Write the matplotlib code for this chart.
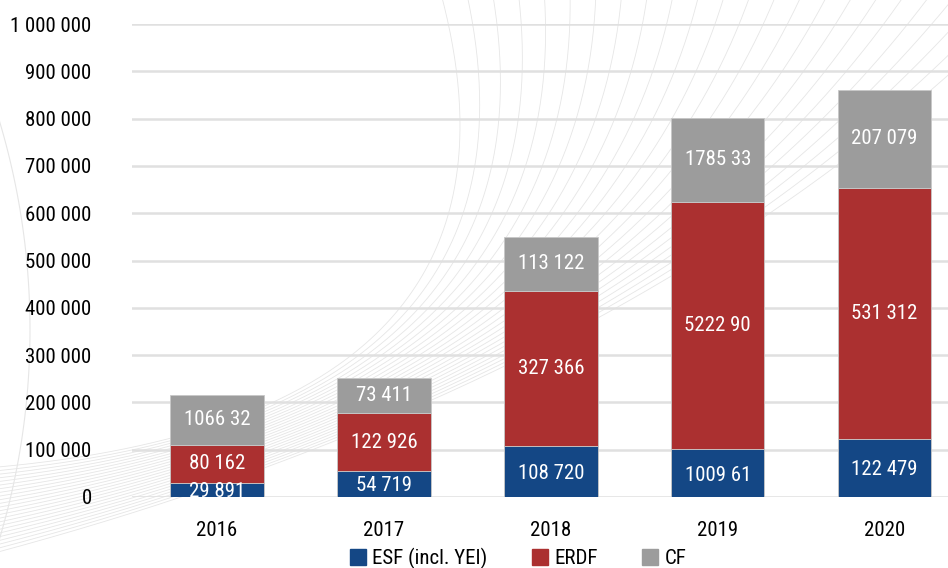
import numpy as np
import matplotlib.pyplot as plt
from matplotlib import font_manager
from matplotlib.lines import Line2D

years = ["2016", "2017", "2018", "2019", "2020"]
esf = [29891, 54719, 108720, 100961, 122479]
erdf = [80162, 122926, 327366, 522290, 531312]
cf = [106632, 73411, 113122, 178533, 207079]
esf_labels = ["29 891", "54 719", "108 720", "1009 61", "122 479"]
erdf_labels = ["80 162", "122 926", "327 366", "5222 90", "531 312"]
cf_labels = ["1066 32", "73 411", "113 122", "1785 33", "207 079"]
yticks = [0, 100000, 200000, 300000, 400000, 500000, 600000, 700000, 800000, 900000, 1000000]
ytick_labels = ["0", "100 000", "200 000", "300 000", "400 000", "500 000",
                "600 000", "700 000", "800 000", "900 000", "1 000 000"]

# narrow font if there is one, else Liberation Sans a bit smaller
installed = {f.name for f in font_manager.fontManager.ttflist}
fs = 15
family = "Liberation Sans"
for name in ["Roboto Condensed", "Liberation Sans Narrow", "Open Sans Condensed", "DejaVu Sans Condensed"]:
    if name in installed:
        family = name
        break
else:
    fs = 13.5
plt.rcParams['font.family'] = [family, 'DejaVu Sans']

W, H = 948, 568
fig = plt.figure(figsize=(W / 100, H / 100), dpi=100)

# decorative background curves (figure pixel coords)
bg = fig.add_axes([0, 0, 1, 1], zorder=0)
bg.set_xlim(0, W)
bg.set_ylim(H, 0)
bg.axis("off")
t = np.linspace(0, 1, 200)
for k in range(24):
    p0 = np.array([-40, 470 + 4 * k])
    p1 = np.array([560 + 4 * k, 430 - 2 * k])
    p2 = np.array([440 + 26 * k, -10])
    pts = ((1 - t) ** 2)[:, None] * p0 + (2 * (1 - t) * t)[:, None] * p1 + (t ** 2)[:, None] * p2
    bg.plot(pts[:, 0], pts[:, 1], color="#e6e6e6", lw=0.6)
theta = np.linspace(-0.5, 0.6, 100)
bg.plot(-700 + 730 * np.cos(theta), 330 + 730 * np.sin(theta), color="#e6e6e6", lw=0.8)

ax = fig.add_axes([132 / W, (H - 497) / H, (W - 132) / W, (497 - 24) / H], zorder=1)
ax.patch.set_alpha(0)
x = np.arange(len(years))
width = 0.56
blue, red, grey = "#144785", "#ab3030", "#9c9c9c"

bottoms_erdf = np.array(esf)
bottoms_cf = bottoms_erdf + np.array(erdf)
ax.bar(x, esf, width, color=blue, edgecolor="#c8c8c8", lw=0.6, label="ESF (incl. YEI)", zorder=3)
ax.bar(x, erdf, width, bottom=bottoms_erdf, color=red, edgecolor="#c8c8c8", lw=0.6, label="ERDF", zorder=3)
ax.bar(x, cf, width, bottom=bottoms_cf, color=grey, edgecolor="#c8c8c8", lw=0.6, label="CF", zorder=3)

for i in range(len(years)):
    ax.text(x[i], esf[i] / 2 - 4000, esf_labels[i], ha="center", va="center", color="white", fontsize=fs, zorder=4)
    ax.text(x[i], bottoms_erdf[i] + erdf[i] / 2, erdf_labels[i], ha="center", va="center", color="white", fontsize=fs, zorder=4)
    ax.text(x[i], bottoms_cf[i] + cf[i] / 2, cf_labels[i], ha="center", va="center", color="white", fontsize=fs, zorder=4)

ax.set_xlim(-0.51, 4.38)
ax.set_ylim(0, 1000000)
ax.set_yticks(yticks)
ax.set_yticklabels(ytick_labels)
ax.set_xticks(x)
ax.set_xticklabels(years)
ax.tick_params(length=0, labelsize=fs, colors="black")
ax.tick_params(axis="y", pad=29)
ax.tick_params(axis="x", pad=17)
ax.grid(axis="y", color="#e0e0e0", lw=1.8, zorder=0)
ax.set_axisbelow(True)
for s in ax.spines.values():
    s.set_visible(False)

handles = [Line2D([], [], marker="s", ls="", color=c, markersize=11) for c in (blue, red, grey)]
fig.legend(handles, ["ESF (incl. YEI)", "ERDF", "CF"], loc="lower center", ncol=3,
           bbox_to_anchor=(0.545, -0.035), frameon=False, fontsize=fs, columnspacing=2.0,
           handletextpad=0.2, handlelength=1.0)

fig.savefig("out.png", dpi=100)
